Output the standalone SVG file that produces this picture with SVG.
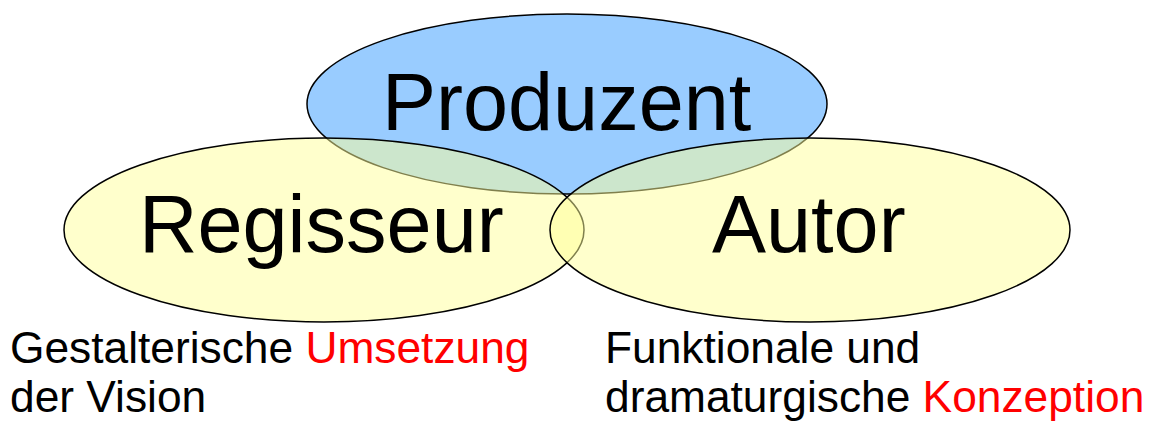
<svg xmlns="http://www.w3.org/2000/svg" width="1152" height="421" viewBox="0 0 1152 421">
  <style>
    .lbl { font-family: "Liberation Sans", Arial, sans-serif; fill: #000; }
    .big { font-size: 81px; }
    .desc { font-size: 44.3px; }
    .red { fill: #ff0000; }
    .blue { fill: #99ccff; stroke: #000; stroke-width: 1.5; }
    .yel { fill: #ffff99; fill-opacity: 0.5; stroke: #000; stroke-width: 1.5; }
  </style>
  <rect width="1152" height="421" fill="#ffffff"/>
  <g id="produzent">
    <ellipse class="blue" cx="567" cy="104" rx="260" ry="90"/>
  </g>
  <g id="regisseur">
    <ellipse class="yel" cx="324" cy="230" rx="260" ry="92"/>
  </g>
  <g id="autor">
    <ellipse class="yel" cx="810" cy="230" rx="260" ry="92"/>
  </g>
  <g id="labels">
    <text class="lbl big" x="382" y="130">Produzent</text>
    <text class="lbl big" x="139" y="252">Regisseur</text>
    <text class="lbl big" x="712" y="252">Autor</text>
  </g>
  <g id="desc-regisseur">
    <text class="lbl desc" x="10" y="363">Gestalterische <tspan class="red">Umsetzung</tspan></text>
    <text class="lbl desc" x="10" y="412">der Vision</text>
  </g>
  <g id="desc-autor">
    <text class="lbl desc" x="605" y="363">Funktionale und</text>
    <text class="lbl desc" x="605" y="412">dramaturgische <tspan class="red">Konzeption</tspan></text>
  </g>
  <g id="connectors"></g>
</svg>
